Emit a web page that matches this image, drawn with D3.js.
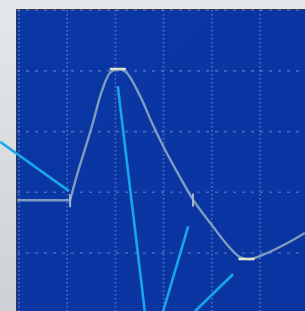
<!DOCTYPE html>
<html>
<head>
<meta charset="utf-8">
<script src="https://cdn.jsdelivr.net/npm/d3@7"></script>
<style>
  body { margin: 0; background: #dde1e4; }
  svg { display: block; }
</style>
</head>
<body>
<div id="chart"></div>
<script>
// trace values, in grid divisions (x: time div, y: voltage div)
const traceX = [-0.04, 1.06, 1.22, 1.51, 1.72, 1.89, 2.05, 2.22, 2.51, 2.76, 3.03, 3.34, 3.61, 4.02, 4.38, 4.59, 4.79, 5.15, 5.56, 5.93];
const traceY = [0.87, 0.87, 1.33, 2.08, 2.67, 2.97, 3.03, 2.98, 2.59, 2.14, 1.70, 1.25, 0.88, 0.44, 0.08, -0.07, -0.10, 0.00, 0.16, 0.33];

// small tick markers on the trace
const tickX = [1.06, 3.61];
const tickY = [0.87, 0.88];

// highlighted extremes (peak, trough)
const extremeX = [2.05, 4.72];
const extremeY = [3.03, -0.10];

// pointer lines (from, to)
const pointerX1 = [-0.39, 2.05, 3.51, 4.44];
const pointerY1 = [1.83, 2.75, 0.44, -0.35];
const pointerX2 = [1.04, 2.61, 2.99, 3.65];
const pointerY2 = [1.02, -0.96, -0.96, -0.96];

// grid divisions
const gridX = [0, 1, 2, 3, 4, 5];
const gridY = [0, 1, 2, 3, 4];

let svgWidth = 305;
let svgHeight = 311;

let svg = d3.select("#chart")
    .append("svg")
    .attr("width", svgWidth)
    .attr("height", svgHeight);

// background gradient
let defs = svg.append("defs");
let bg = defs.append("linearGradient")
    .attr("id", "bg")
    .attr("x1", 0).attr("y1", 0).attr("x2", 0).attr("y2", 1);
bg.append("stop").attr("offset", "0%").attr("stop-color", "#e4e8ea");
bg.append("stop").attr("offset", "100%").attr("stop-color", "#cdd1d5");

let panelGrad = defs.append("linearGradient")
    .attr("id", "panel")
    .attr("x1", 0).attr("y1", 0).attr("x2", 1).attr("y2", 1);
panelGrad.append("stop").attr("offset", "0%").attr("stop-color", "#0b37a6");
panelGrad.append("stop").attr("offset", "100%").attr("stop-color", "#0934a0");

svg.append("rect")
    .attr("width", svgWidth)
    .attr("height", svgHeight)
    .attr("fill", "url(#bg)");

// scales: one division = ~48px wide, ~61px tall
let x = d3.scaleLinear().domain([0, 1]).range([19, 67.2]);
let y = d3.scaleLinear().domain([0, 1]).range([253, 192.3]);

let panelLeft = 17, panelTop = 10;

// screen panel
svg.append("rect")
    .attr("x", panelLeft - 1)
    .attr("y", panelTop - 1)
    .attr("width", svgWidth)
    .attr("height", svgHeight)
    .attr("fill", "#353a40");
svg.append("rect")
    .attr("x", panelLeft)
    .attr("y", panelTop)
    .attr("width", svgWidth)
    .attr("height", svgHeight)
    .attr("fill", "url(#panel)");

let plot = svg.append("g");

// dotted grid
plot.selectAll(".vgrid")
    .data(gridX)
    .enter()
    .append("line")
    .attr("class", "vgrid")
    .attr("x1", d => x(d)).attr("x2", d => x(d))
    .attr("y1", panelTop).attr("y2", svgHeight)
    .attr("stroke", "#9cb2ee")
    .attr("stroke-opacity", 0.45)
    .attr("stroke-width", 1.8)
    .attr("stroke-dasharray", "1.5,2.5");

plot.selectAll(".hgrid")
    .data(gridY)
    .enter()
    .append("line")
    .attr("class", "hgrid")
    .attr("x1", panelLeft).attr("x2", svgWidth)
    .attr("y1", d => y(d)).attr("y2", d => y(d))
    .attr("stroke", "#9cb2ee")
    .attr("stroke-opacity", 0.4)
    .attr("stroke-width", 1.6)
    .attr("stroke-dasharray", "3,6");

// trace: flat baseline, then the smooth wave
let trace = traceX.map((d, i) => [d, traceY[i]]);
let line = d3.line()
    .x(d => x(d[0]))
    .y(d => y(d[1]));

plot.append("path")
    .datum(trace.slice(0, 2))
    .attr("d", line)
    .attr("fill", "none")
    .attr("stroke", "#7e9cbf")
    .attr("stroke-width", 2.4);

plot.append("path")
    .datum(trace.slice(1))
    .attr("d", line.curve(d3.curveCatmullRom.alpha(0.5)))
    .attr("fill", "none")
    .attr("stroke", "#7e9cbf")
    .attr("stroke-width", 2.4)
    .attr("stroke-linejoin", "round");

// tick markers
plot.selectAll(".tick-mark")
    .data(tickX)
    .enter()
    .append("line")
    .attr("class", "tick-mark")
    .attr("x1", d => x(d)).attr("x2", d => x(d))
    .attr("y1", (d, i) => y(tickY[i]) - 6)
    .attr("y2", (d, i) => y(tickY[i]) + 7)
    .attr("stroke", "#a7b6cc")
    .attr("stroke-width", 2);

// peak / trough highlights
plot.selectAll(".extreme")
    .data(extremeX)
    .enter()
    .append("line")
    .attr("class", "extreme")
    .attr("x1", d => x(d) - 7).attr("x2", d => x(d) + 7)
    .attr("y1", (d, i) => y(extremeY[i]))
    .attr("y2", (d, i) => y(extremeY[i]))
    .attr("stroke", "#dfe6c8")
    .attr("stroke-width", 2.5)
    .attr("stroke-linecap", "round");

// pointer lines
svg.selectAll(".pointer")
    .data(pointerX1)
    .enter()
    .append("line")
    .attr("class", "pointer")
    .attr("x1", d => x(d))
    .attr("y1", (d, i) => y(pointerY1[i]))
    .attr("x2", (d, i) => x(pointerX2[i]))
    .attr("y2", (d, i) => y(pointerY2[i]))
    .attr("stroke", "#17a6e6")
    .attr("stroke-width", 2.6);
</script>
</body>
</html>
